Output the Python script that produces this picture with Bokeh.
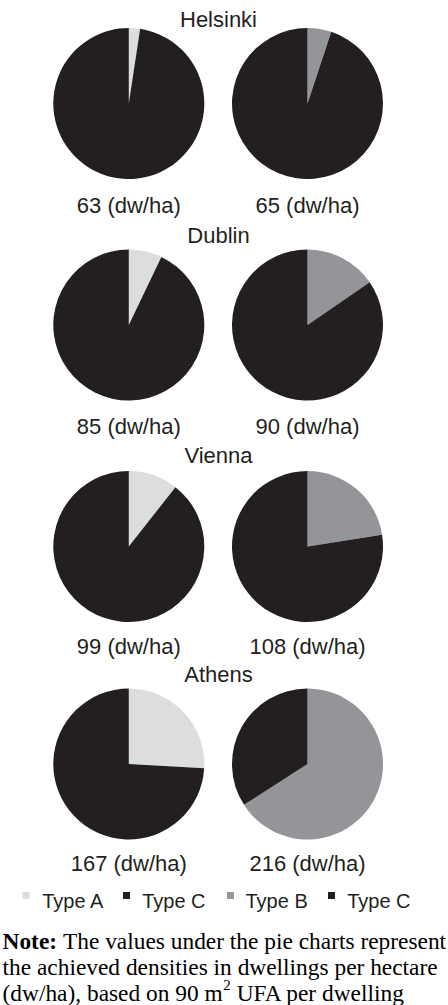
import math
from bokeh.plotting import figure
from bokeh.models import ColumnDataSource, Range1d
from bokeh.core.properties import value
from bokeh.embed import file_html
from bokeh.resources import INLINE

# ---------------- data ----------------
cities = ["Helsinki", "Dublin", "Vienna", "Athens"]
density_left = [63, 85, 99, 167]      # dw/ha, left pies (Type A + Type C)
density_right = [65, 90, 108, 216]    # dw/ha, right pies (Type B + Type C)
type_a_pct = [2.4, 7.1, 10.6, 25.9]   # share of Type A in left pies (rest Type C)
type_b_pct = [5.1, 15.4, 22.5, 65.9]  # share of Type B in right pies (rest Type C)
legend_labels = ["Type A", "Type C", "Type B", "Type C"]
note_bold = "Note:"
note_line1 = "The values under the pie charts represent"
note_line2 = "the achieved densities in dwellings per hectare"
note_line3a = "(dw/ha), based on 90 m"
note_sup = "2"
note_line3b = "UFA per dwelling"

# ---------------- style / layout ----------------
COL_A = "#dcddde"
COL_B = "#939598"
COL_C = "#231f20"
legend_colors = [COL_A, COL_C, COL_B, COL_C]

W, H = 448, 1005
def fx(rx):
    return rx
def fy(ry):
    return H - ry

row_center = [103, 324.5, 546, 763.5]
row_title = [19, 235, 455, 674]
row_label = [205, 426, 645.5, 862.5]
left_cx, right_cx, title_cx = 128.3, 307, 218
R = 75.5

SANS = value("Liberation Sans")
SERIF = value("Liberation Serif")

p = figure(width=W, height=H, x_range=Range1d(0, W), y_range=Range1d(0, H),
           output_backend="svg", toolbar_location=None, min_border=0,
           x_axis_type=None, y_axis_type=None)
p.grid.visible = False
p.outline_line_color = None
p.background_fill_color = "white"
p.border_fill_color = "white"

# ---------------- pies ----------------
wx, wy, ws, we, wc = [], [], [], [], []
def add_pie(cx, cy, shares, colors):
    f0 = 0.0
    for s, c in zip(shares, colors):
        f1 = f0 + s / 100.0
        wx.append(cx); wy.append(cy)
        ws.append(math.pi / 2 - f1 * 2 * math.pi)
        we.append(math.pi / 2 - f0 * 2 * math.pi)
        wc.append(c)
        f0 = f1

for i in range(len(cities)):
    add_pie(fx(left_cx), fy(row_center[i]), [type_a_pct[i], 100 - type_a_pct[i]], [COL_A, COL_C])
    add_pie(fx(right_cx), fy(row_center[i]), [type_b_pct[i], 100 - type_b_pct[i]], [COL_B, COL_C])

wsrc = ColumnDataSource(dict(x=wx, y=wy, s=ws, e=we, c=wc))
p.wedge(x="x", y="y", radius=R, start_angle="s", end_angle="e", direction="anticlock",
        fill_color="c", line_color=None, source=wsrc)

# ---------------- titles & labels ----------------
tsrc = ColumnDataSource(dict(
    x=[fx(title_cx)] * len(cities),
    y=[fy(v) for v in row_title],
    t=cities))
p.text(x="x", y="y", text="t", source=tsrc, text_font=SANS, text_font_size=value("22px"),
       text_align="center", text_baseline="alphabetic", text_color=COL_C)

lx, ly, lt = [], [], []
for i in range(len(cities)):
    lx += [fx(left_cx), fx(right_cx)]
    ly += [fy(row_label[i])] * 2
    lt += [f"{density_left[i]} (dw/ha)", f"{density_right[i]} (dw/ha)"]
lsrc = ColumnDataSource(dict(x=lx, y=ly, t=lt))
p.text(x="x", y="y", text="t", source=lsrc, text_font=SANS, text_font_size=value("22px"),
       text_align="center", text_baseline="alphabetic", text_color=COL_C)

# ---------------- legend ----------------
sq_x = [25.5, 126, 230, 331]
tx_x = [41.7, 141.7, 245, 346.7]
gsrc = ColumnDataSource(dict(x=[fx(v) for v in sq_x], y=[fy(895)] * 4, c=legend_colors))
p.rect(x="x", y="y", width=7, height=7, fill_color="c", line_color=None, source=gsrc)
gtsrc = ColumnDataSource(dict(x=[fx(v) for v in tx_x], y=[fy(900.7)] * 4, t=legend_labels))
p.text(x="x", y="y", text="t", source=gtsrc, text_font=SANS, text_font_size=value("20px"),
       text_align="left", text_baseline="alphabetic", text_color=COL_C)

# ---------------- note ----------------
FS = 23.4
nb = [fy(940.5), fy(966.5), fy(992)]
x0 = 2
p.text(x=[x0], y=[nb[0]], text=[note_bold], text_font=SERIF, text_font_size=value(f"{FS}px"),
       text_font_style="bold", text_baseline="alphabetic", text_color="black")
p.text(x=[x0 + 2.332 * FS + 0.25 * FS], y=[nb[0]], text=[note_line1], text_font=SERIF,
       text_font_size=value(f"{FS}px"), text_baseline="alphabetic", text_color="black")
p.text(x=[x0], y=[nb[1]], text=[note_line2], text_font=SERIF,
       text_font_size=value(f"{FS}px"), text_baseline="alphabetic", text_color="black")
p.text(x=[x0], y=[nb[2]], text=[note_line3a], text_font=SERIF,
       text_font_size=value(f"{FS}px"), text_baseline="alphabetic", text_color="black")
sup_x = x0 + 9.415 * FS + 0.5
p.text(x=[sup_x], y=[nb[2] + 8], text=[note_sup], text_font=SERIF,
       text_font_size=value("15px"), text_baseline="alphabetic", text_color="black")
p.text(x=[sup_x + 0.5 * 15 + 0.25 * FS], y=[nb[2]], text=[note_line3b], text_font=SERIF,
       text_font_size=value(f"{FS}px"), text_baseline="alphabetic", text_color="black")

open("out.html", "w").write(file_html(p, INLINE))
